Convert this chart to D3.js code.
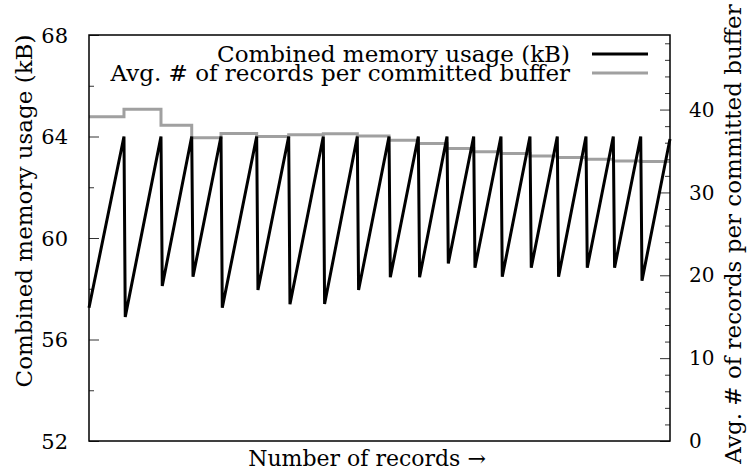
<!DOCTYPE html>
<html>
<head>
<meta charset="utf-8">
<script src="https://cdn.jsdelivr.net/npm/d3@7"></script>
<style>
  body { margin: 0; background: #fff; }
  text { font-family: "DejaVu Serif", serif; fill: #000; }
</style>
</head>
<body>
<svg id="chart" width="748" height="474"></svg>
<script>
// sawtooth: combined memory usage (kB), x in % of records
var memX = [0, 6.02, 6.24, 12.39, 12.61, 17.68, 17.90, 22.72, 22.94, 28.86, 29.08,
  34.37, 34.59, 40.33, 40.55, 46.18, 46.40, 51.64, 51.86, 56.68, 56.90, 61.62, 61.84,
  66.21, 66.43, 70.91, 71.13, 75.90, 76.12, 80.60, 80.82, 85.54, 85.76, 90.24, 90.46,
  94.96, 95.18, 100];
var memKB = [57.25, 64.0, 56.89, 64.0, 58.11, 64.0, 58.47, 64.0, 57.25, 64.0, 57.95,
  64.0, 57.39, 64.0, 57.40, 64.0, 57.95, 64.0, 58.45, 64.0, 58.45, 64.0, 59.0,
  64.0, 58.83, 64.0, 58.47, 64.0, 58.83, 64.0, 58.47, 64.0, 58.83, 64.0, 58.83,
  64.0, 58.32, 63.9];

// step line: avg # of records per committed buffer
var bufX = [0, 6.02, 12.39, 17.68, 22.72, 28.86, 34.37, 40.33, 46.18, 51.64, 56.68,
  61.62, 66.21, 70.91, 75.90, 80.60, 85.54, 90.24, 94.96, 100];
var bufAvg = [39.12, 40.05, 38.12, 36.59, 37.12, 36.75, 36.97, 37.07, 36.82, 36.31,
  35.91, 35.31, 34.92, 34.70, 34.40, 34.22, 33.99, 33.80, 33.72, 33.72];

var leftTicks = [52, 56, 60, 64, 68];
var leftMinor = [54, 58, 62, 66];
var rightTicks = [0, 10, 20, 30, 40];
var rightMinor = [2, 4, 6, 8, 12, 14, 16, 18, 22, 24, 26, 28, 32, 34, 36, 38, 42, 44, 46, 48];

var legendLabels = ["Combined memory usage (kB)", "Avg. # of records per committed buffer"];
var colors = ["#000000", "#a0a0a0"];

var L = 89, R = 670, T = 35, B = 441;
var svg = d3.select("#chart");

var x = d3.scaleLinear().domain([0, 100]).range([L, R]);
var yL = d3.scaleLinear().domain([52, 68]).range([B, T]);
var yR = d3.scaleLinear().domain([0, 49]).range([B, T]);

// left axis, ticks pointing inward
var gl = svg.append("g").attr("transform", "translate(" + L + ",0)");
gl.call(d3.axisRight(yL).tickValues(leftTicks).tickSize(10).tickFormat(""));
gl.append("g").call(d3.axisRight(yL).tickValues(leftMinor).tickSize(5).tickFormat(""));
gl.selectAll(".domain").remove();
gl.selectAll("line").attr("stroke", "#333");

svg.selectAll(".ltick").data(leftTicks).enter().append("text")
  .attr("x", 68).attr("y", function (d) { return yL(d); })
  .attr("dy", "0.36em").attr("text-anchor", "end")
  .style("font-size", "21px").text(function (d) { return d; });

// right axis
var gr = svg.append("g").attr("transform", "translate(" + R + ",0)");
gr.call(d3.axisLeft(yR).tickValues(rightTicks).tickSize(10).tickFormat(""));
gr.append("g").call(d3.axisLeft(yR).tickValues(rightMinor).tickSize(5).tickFormat(""));
gr.selectAll(".domain").remove();
gr.selectAll("line").attr("stroke", "#333");

svg.selectAll(".rtick").data(rightTicks).enter().append("text")
  .attr("x", 689).attr("y", function (d) { return yR(d); })
  .attr("dy", "0.36em").attr("text-anchor", "start")
  .style("font-size", "20px").text(function (d) { return d; });

// lines
svg.append("path")
  .attr("fill", "none").attr("stroke", colors[1]).attr("stroke-width", 3)
  .attr("d", d3.line().curve(d3.curveStepAfter)
    .x(function (d, i) { return x(bufX[i]); })
    .y(function (d) { return yR(d); })(bufAvg));

svg.append("path")
  .attr("fill", "none").attr("stroke", colors[0]).attr("stroke-width", 3)
  .attr("d", d3.line()
    .x(function (d, i) { return x(memX[i]); })
    .y(function (d) { return yL(d); })(memKB));

// frame
svg.append("rect")
  .attr("x", L).attr("y", T).attr("width", R - L).attr("height", B - T)
  .attr("fill", "none").attr("stroke", "#000").attr("stroke-width", 1.5);

// legend
var leg = svg.selectAll(".leg").data(legendLabels).enter().append("g");
leg.append("text")
  .attr("x", 570).attr("y", function (d, i) { return 62 + i * 19; })
  .attr("text-anchor", "end").style("font-size", "23px")
  .text(function (d) { return d; });
leg.append("line")
  .attr("x1", 592).attr("x2", 648)
  .attr("y1", function (d, i) { return 54 + i * 19; })
  .attr("y2", function (d, i) { return 54 + i * 19; })
  .attr("stroke", function (d, i) { return colors[i]; })
  .attr("stroke-width", 3);

// axis titles
svg.append("text")
  .attr("transform", "translate(32,211) rotate(-90)")
  .attr("text-anchor", "middle").style("font-size", "23px")
  .text("Combined memory usage (kB)");

svg.append("text")
  .attr("transform", "translate(741,234) rotate(-90)")
  .attr("text-anchor", "middle").style("font-size", "23px")
  .text("Avg. # of records per committed buffer");

svg.append("text")
  .attr("x", 367).attr("y", 466)
  .attr("text-anchor", "middle").style("font-size", "22px")
  .text("Number of records \u2192");
</script>
</body>
</html>
